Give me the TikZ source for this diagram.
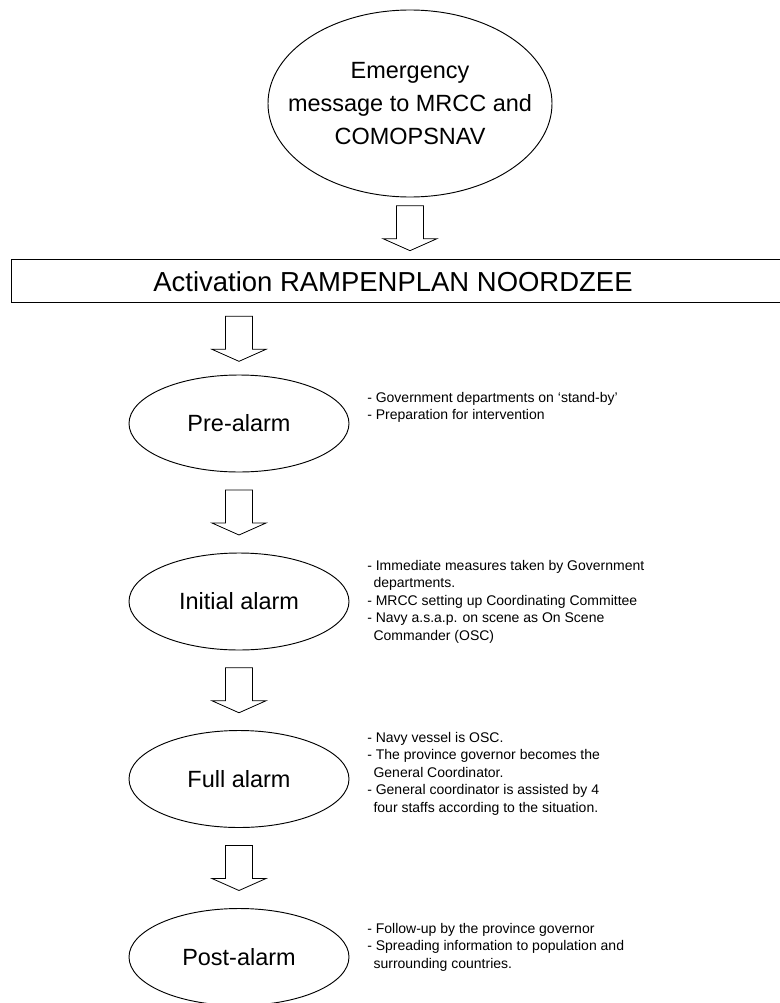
\documentclass[tikz,border=0pt]{standalone}
\usepackage{fontspec}
\setmainfont{Liberation Sans}
\usetikzlibrary{shapes.geometric,calc}
\tikzset{
  every node/.style={inner sep=0pt},
  stage/.style={draw, line width=0.7pt, ellipse, minimum width=165pt, minimum height=72.75pt, font=\fontsize{17.6pt}{21pt}\selectfont},
  note/.style={anchor=north west, align=left, font=\fontsize{10.5pt}{13.1pt}\selectfont},
  blockarrow/.style={draw, line width=0.6pt, fill=white, line join=miter},
}
\newcommand{\ind}{\hspace*{0.45em}}
\newcommand{\flowarrow}[3]{%
  \draw[blockarrow] let \p1=(#1.south), \p2=(#2.north), \p3=(#3.center), \n1={(\y1+\y2)/2} in
    (\x3-10.125pt,\n1+16.875pt) -- (\x3+10.125pt,\n1+16.875pt) -- (\x3+10.125pt,\n1-7.875pt)
    -- (\x3+20.25pt,\n1-7.875pt) -- (\x3,\n1-16.875pt) -- (\x3-20.25pt,\n1-7.875pt)
    -- (\x3-10.125pt,\n1-7.875pt) -- cycle;}
\begin{document}
\begin{tikzpicture}[x=0.75pt,y=-0.75pt]
\useasboundingbox (0,0) rectangle (779,1003);
% top ellipse
\node[draw, line width=0.7pt, ellipse, minimum width=213pt, minimum height=140.25pt,
      label={[align=center, font=\fontsize{17.6pt}{25pt}\selectfont]center:{Emergency\\message to MRCC and\\COMOPSNAV}}] (emerg) at (410,103.5) {};
% activation bar
\node[draw, line width=0.7pt, anchor=west, minimum width=600pt, minimum height=32.5pt] (act) at (11,281) {};
\node[font=\fontsize{20.6pt}{24pt}\selectfont] (acttext) at (393,282) {Activation RAMPENPLAN NOORDZEE};
% stages
\node[stage] (pre) at (239,423.5) {Pre-alarm};
\node[stage] (init) at (239,601.5) {Initial alarm};
\node[stage] (full) at (239,779) {Full alarm};
\node[stage] (post) at (239,957) {Post-alarm};
% arrows
\flowarrow{emerg}{act}{emerg}
\flowarrow{act}{pre}{pre}
\flowarrow{pre}{init}{pre}
\flowarrow{init}{full}{init}
\flowarrow{full}{post}{full}
% notes
\node[note] (prenote) at (367,392) {- Government departments on `stand-by'\\- Preparation for intervention};
\node[note] (initnote) at (367,560) {- Immediate measures taken by Government\\\ind departments.\\- MRCC setting up Coordinating Committee\\- Navy a.s.a.p. on scene as On Scene\\\ind Commander (OSC)};
\node[note] (fullnote) at (367,732) {- Navy vessel is OSC.\\- The province governor becomes the\\\ind General Coordinator.\\- General coordinator is assisted by 4\\\ind four staffs according to the situation.};
\node[note] (postnote) at (367,923) {- Follow-up by the province governor\\- Spreading information to population and\\\ind surrounding countries.};
\end{tikzpicture}
\end{document}
